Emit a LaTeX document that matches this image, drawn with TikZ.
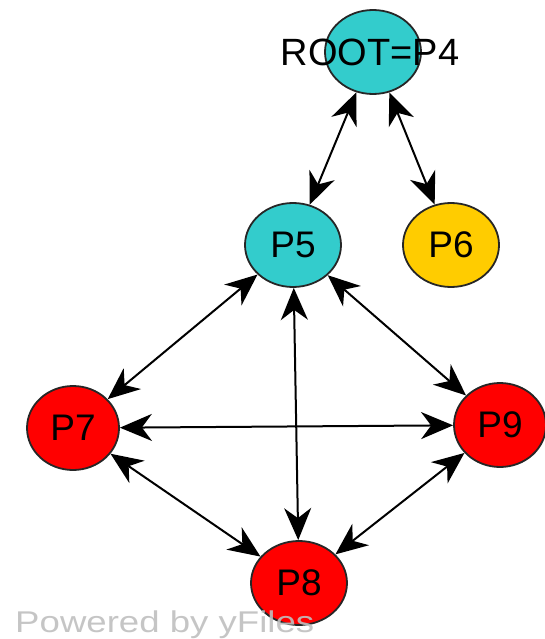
\documentclass[tikz,border=0pt]{standalone}
\usepackage{fontspec}
\setmainfont{Liberation Sans}
\usetikzlibrary{shapes.geometric,arrows.meta}
\definecolor{tealc}{RGB}{51,204,204}
\definecolor{yel}{RGB}{255,204,0}
\definecolor{redc}{RGB}{255,0,0}
\tikzset{
  proc/.style={ellipse, draw=black!85, line width=1.8pt, minimum width=96pt, minimum height=84pt, inner sep=0pt, font=\fontsize{37}{40}\selectfont},
  tipx/.tip={Stealth[length=32pt,width=27pt,inset=10pt]},
  link/.style={tipx-tipx, line width=2pt}
}
\begin{document}
\begin{tikzpicture}[x=1pt,y=-1pt]
\useasboundingbox (0,0) rectangle (545,639);
\node[proc, fill=tealc] (root) at (373,52) {};
\node[inner sep=0pt, font=\fontsize{38}{40}\selectfont] (rootlabel) at (370,52) {ROOT=P4};
\node[proc, fill=tealc] (p5) at (293,245) {P5};
\node[proc, fill=yel] (p6) at (451,245) {P6};
\node[proc, fill=redc, minimum width=92pt] (p7) at (73,428) {P7};
\node[proc, fill=redc, minimum width=92pt] (p9) at (500,425) {P9};
\node[proc, fill=redc] (p8) at (299,583) {P8};
\draw[link] (root) -- (p5);
\draw[link] (root) -- (p6);
\draw[link] (p5) -- (p7);
\draw[link] (p5) -- (p8);
\draw[link] (p5) -- (p9);
\draw[link] (p7) -- (p9);
\draw[link] (p7) -- (p8);
\draw[link] (p9) -- (p8);
\node[anchor=base west, inner sep=0pt, text=black!25, font=\fontsize{30}{32}\selectfont, xscale=1.22, transform shape, opacity=0.9] (powered) at (15,632) {Powered by yFiles};
\end{tikzpicture}
\end{document}
